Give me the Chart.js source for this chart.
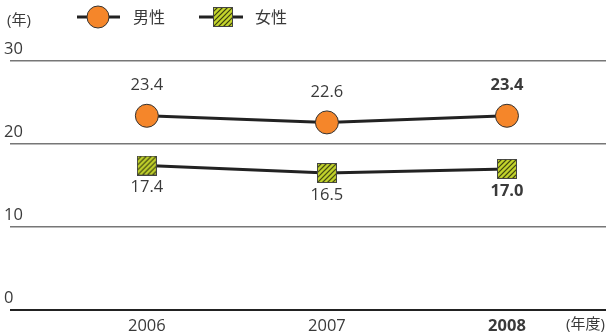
<!DOCTYPE html>
<html>
<head>
<meta charset="utf-8">
<script src="https://cdn.jsdelivr.net/npm/chart.js@4/dist/chart.umd.min.js"></script>
<style>
  html, body { margin: 0; padding: 0; background: #fff; }
  #wrap { width: 606px; height: 333px; position: relative; }
</style>
</head>
<body>
<div id="wrap"><canvas id="chart"></canvas></div>
<script>
const years = ['2006', '2007', '2008'];
const maleYears = [23.4, 22.6, 23.4];
const femaleYears = [17.4, 16.5, 17.0];
const yTicks = [0, 10, 20, 30];
const seriesNames = ['男性', '女性'];

const FONT = "'Open Sans', 'Noto Sans CJK JP', sans-serif";
const TXT = '#3a3a3a';
const ORANGE = '#f5862a';
const LIME = '#c4d52c';

// hatched square used as the female marker
const makeSquare = (size) => {
    let c = document.createElement('canvas');
    c.width = size; c.height = size;
    let g = c.getContext('2d');
    g.fillStyle = LIME;
    g.fillRect(0, 0, size, size);
    g.save();
    g.beginPath(); g.rect(0, 0, size, size); g.clip();
    g.strokeStyle = '#3a3f10';
    g.lineWidth = 1.2;
    for (let k = -size; k < size * 2; k += 5) {
        g.beginPath();
        g.moveTo(k, size);
        g.lineTo(k + size, 0);
        g.stroke();
    }
    g.restore();
    g.strokeStyle = '#444';
    g.lineWidth = 1;
    g.strokeRect(0.5, 0.5, size - 1, size - 1);
    return c;
};
const squareImg = makeSquare(20);

const extras = {
    id: 'extras',
    afterDatasetsDraw(chart) {
        const ctx = chart.ctx;
        ctx.save();
        ctx.fillStyle = TXT;
        ctx.textBaseline = 'middle';

        // value labels
        const drawLabels = (dsIndex, values, dy) => {
            const meta = chart.getDatasetMeta(dsIndex);
            meta.data.forEach((pt, i) => {
                ctx.font = (i === 2 ? 'bold ' : '') + '16.5px ' + FONT;
                ctx.textAlign = 'center';
                ctx.fillText(values[i].toFixed(1), pt.x, pt.y + dy);
            });
        };
        drawLabels(0, maleYears, -30);
        drawLabels(1, femaleYears, 22);

        // unit labels
        ctx.font = '15px ' + FONT;
        ctx.textAlign = 'left';
        ctx.fillText('(年)', 7, 21);
        ctx.fillText('(年度)', 566, 325);

        // legend
        ctx.strokeStyle = '#222';
        ctx.lineWidth = 3;
        ctx.beginPath(); ctx.moveTo(77, 17); ctx.lineTo(120, 17); ctx.stroke();
        ctx.beginPath(); ctx.arc(98, 17, 11, 0, Math.PI * 2);
        ctx.fillStyle = ORANGE; ctx.fill();
        ctx.lineWidth = 1; ctx.strokeStyle = '#333'; ctx.stroke();

        ctx.strokeStyle = '#222';
        ctx.lineWidth = 3;
        ctx.beginPath(); ctx.moveTo(199, 17); ctx.lineTo(243, 17); ctx.stroke();
        ctx.drawImage(squareImg, 213, 7);

        ctx.fillStyle = TXT;
        ctx.font = '16px ' + FONT;
        ctx.fillText(seriesNames[0], 133, 18);
        ctx.fillText(seriesNames[1], 255, 18);
        ctx.restore();
    }
};

const toPoints = vals => vals.map((v, i) => ({x: i, y: v}));

new Chart(document.getElementById('chart'), {
    type: 'line',
    data: {
        datasets: [
            {
                label: seriesNames[0],
                data: toPoints(maleYears),
                borderColor: '#222',
                borderWidth: 3,
                pointRadius: 11.5,
                pointHoverRadius: 11.5,
                pointBackgroundColor: ORANGE,
                pointBorderColor: '#333',
                pointBorderWidth: 1
            },
            {
                label: seriesNames[1],
                data: toPoints(femaleYears),
                borderColor: '#222',
                borderWidth: 3,
                pointStyle: squareImg,
                pointRadius: 10
            }
        ]
    },
    options: {
        responsive: true,
        maintainAspectRatio: false,
        animation: false,
        layout: { autoPadding: false, padding: { top: 61, left: 10, right: 0, bottom: 0 } },
        plugins: { legend: { display: false }, tooltip: { enabled: false } },
        scales: {
            x: {
                type: 'linear',
                min: -0.76,
                max: 2.55,
                afterBuildTicks: s => { s.ticks = years.map((_, i) => ({value: i})); },
                afterFit: s => { s.height = 23; s.paddingLeft = 0; s.paddingRight = 0; },
                grid: { display: false, drawTicks: false },
                border: { display: false },
                ticks: {
                    color: TXT,
                    padding: 6,
                    maxRotation: 0,
                    autoSkip: false,
                    font: c => ({ family: FONT, size: 16.5, weight: c.index === 2 ? 'bold' : 'normal' }),
                    callback: v => years[v]
                }
            },
            y: {
                min: 0,
                max: 30,
                afterBuildTicks: s => { s.ticks = yTicks.map(v => ({value: v})); },
                afterFit: s => { s.paddingTop = 0; s.paddingBottom = 0; },
                border: { display: false },
                grid: {
                    drawTicks: false,
                    color: c => c.tick.value === 0 ? '#222' : '#777',
                    lineWidth: c => c.tick.value === 0 ? 2 : 1.5
                },
                ticks: {
                    mirror: true,
                    padding: -2,
                    labelOffset: -12,
                    color: TXT,
                    font: { family: FONT, size: 16.5 }
                }
            }
        }
    },
    plugins: [extras]
});
</script>
</body>
</html>
